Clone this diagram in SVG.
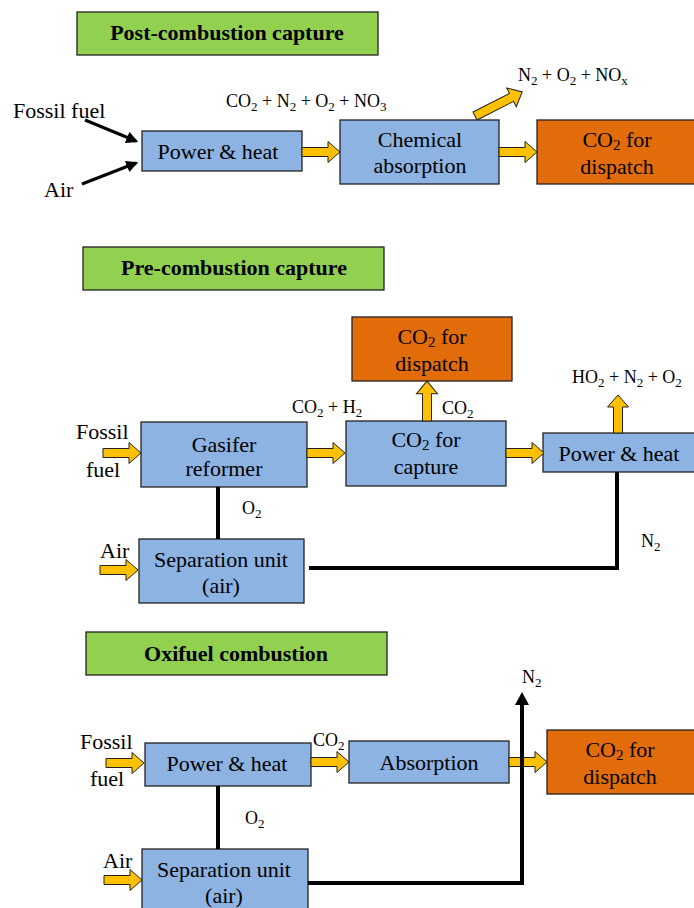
<svg xmlns="http://www.w3.org/2000/svg" xmlns:xlink="http://www.w3.org/1999/xlink" width="694" height="908" viewBox="0 0 694 908">
<style>
text{font-family:"Liberation Serif","Times New Roman",serif;fill:#000}
.t{font-size:22px;font-weight:bold;text-anchor:middle}
.b{font-size:22px;text-anchor:middle}
.l{font-size:22px}
.s{font-size:18px}
.title{fill:#92d050;stroke:#222;stroke-width:1.3}
.blue{fill:#8db3e2;stroke:#222;stroke-width:1.3}
.orange{fill:#e36c0a;stroke:#222;stroke-width:1.3}
.ya{fill:#ffc000;stroke:#222;stroke-width:1}
.bl{fill:none;stroke:#000;stroke-width:4}
.ba{fill:none;stroke:#000;stroke-width:3}
</style>
<defs>
<path id="ya" d="M0,-4.5 H26 V-10.5 L38,0 L26,10.5 V4.5 H0 Z"/>
<path id="yad" d="M0,-4.5 H41 V-10.5 L53,0 L41,10.5 V4.5 H0 Z"/>
<marker id="ah" viewBox="0 0 10 10" refX="8" refY="5" markerWidth="4" markerHeight="4" orient="auto" markerUnits="strokeWidth">
<path d="M0,0 L10,5 L0,10 Z" fill="#000"/>
</marker>
</defs>

<!-- Post-combustion -->
<g id="title1"><rect class="title" x="77" y="12" width="301" height="43"/><text class="t" x="227" y="40">Post-combustion capture</text></g>
<g id="power1"><rect class="blue" x="142" y="131" width="160" height="40"/><text class="b" x="218" y="159">Power &amp; heat</text></g>
<g id="chem1"><rect class="blue" x="340" y="120" width="159" height="64"/><text class="b" x="420" y="147">Chemical</text><text class="b" x="420" y="173">absorption</text></g>
<g id="disp1"><rect class="orange" x="537" y="120" width="160" height="64"/><text class="b" x="617" y="147">CO<tspan font-size="15" dy="3">2</tspan><tspan dy="-3"> for</tspan></text><text class="b" x="617" y="174">dispatch</text></g>

<!-- Pre-combustion -->
<g id="title2"><rect class="title" x="83" y="247" width="301" height="43"/><text class="t" x="234" y="275">Pre-combustion capture</text></g>
<g id="disp2"><rect class="orange" x="352" y="317" width="160" height="64"/><text class="b" x="432" y="344">CO<tspan font-size="15" dy="3">2</tspan><tspan dy="-3"> for</tspan></text><text class="b" x="432" y="371">dispatch</text></g>
<g id="gasifer"><rect class="blue" x="141" y="422" width="166" height="65"/><text class="b" x="224" y="452">Gasifer</text><text class="b" x="224" y="476">reformer</text></g>
<g id="capture"><rect class="blue" x="346" y="421" width="160" height="65"/><text class="b" x="426" y="447">CO<tspan font-size="15" dy="3">2</tspan><tspan dy="-3"> for</tspan></text><text class="b" x="426" y="474">capture</text></g>
<g id="power2"><rect class="blue" x="543" y="433" width="155" height="39"/><text class="b" x="619" y="461">Power &amp; heat</text></g>
<g id="sep2"><rect class="blue" x="139" y="539" width="165" height="64"/><text class="b" x="221" y="567">Separation unit</text><text class="b" x="221" y="593">(air)</text></g>

<!-- Oxifuel -->
<g id="title3"><rect class="title" x="86" y="632" width="301" height="43"/><text class="t" x="236" y="661">Oxifuel combustion</text></g>
<g id="power3"><rect class="blue" x="145" y="743" width="166" height="43"/><text class="b" x="227" y="771">Power &amp; heat</text></g>
<g id="absorp"><rect class="blue" x="349" y="741" width="160" height="42"/><text class="b" x="429" y="770">Absorption</text></g>
<g id="disp3"><rect class="orange" x="547" y="730" width="150" height="64"/><text class="b" x="620" y="757">CO<tspan font-size="15" dy="3">2</tspan><tspan dy="-3"> for</tspan></text><text class="b" x="620" y="784">dispatch</text></g>
<g id="sep3"><rect class="blue" x="142" y="849" width="166" height="64"/><text class="b" x="224" y="877">Separation unit</text><text class="b" x="224" y="903">(air)</text></g>

<g id="connectors">
<!-- top -->
<line class="ba" x1="85" y1="120" x2="136" y2="141" marker-end="url(#ah)"/>
<line class="ba" x1="82" y1="184" x2="136" y2="163" marker-end="url(#ah)"/>
<use href="#ya" class="ya" transform="translate(302,152)"/>
<use href="#ya" class="ya" transform="translate(499,152)"/>
<use href="#yad" class="ya" transform="translate(475,116) rotate(-27)"/>
<!-- middle -->
<use href="#ya" class="ya" transform="translate(103,453)"/>
<use href="#ya" class="ya" transform="translate(307,453)"/>
<use href="#ya" class="ya" transform="translate(506,453)"/>
<use href="#ya" class="ya" transform="translate(427,421) rotate(-90) scale(1.05,1)"/>
<use href="#ya" class="ya" transform="translate(618,433) rotate(-90)"/>
<use href="#ya" class="ya" transform="translate(100,570)"/>
<line class="bl" x1="218" y1="487" x2="218" y2="539"/>
<polyline class="bl" points="617,472 617,568 309,568"/>
<!-- bottom -->
<use href="#ya" class="ya" transform="translate(106,763)"/>
<use href="#ya" class="ya" transform="translate(311,762)"/>
<use href="#ya" class="ya" transform="translate(509,762)"/>
<use href="#ya" class="ya" transform="translate(104,880)"/>
<line class="bl" x1="218" y1="786" x2="218" y2="849"/>
<polyline class="bl" points="308,883 522,883 522,704"/>
<path d="M522,692 L529,705 L515,705 Z" fill="#000"/>
</g>

<g id="labels">
<text class="l" x="13" y="118">Fossil fuel</text>
<text class="l" x="44" y="197">Air</text>
<text class="s" x="226" y="107">CO<tspan font-size="13" dy="4">2</tspan><tspan dy="-4"> + N</tspan><tspan font-size="13" dy="4">2</tspan><tspan dy="-4"> + O</tspan><tspan font-size="13" dy="4">2</tspan><tspan dy="-4"> + NO</tspan><tspan font-size="13" dy="4">3</tspan></text>
<text class="s" x="518" y="81">N<tspan font-size="13" dy="4">2</tspan><tspan dy="-4"> + O</tspan><tspan font-size="13" dy="4">2</tspan><tspan dy="-4"> + NO</tspan><tspan font-size="13" dy="4">x</tspan></text>

<text class="l" x="76" y="439">Fossil</text>
<text class="l" x="86" y="477">fuel</text>
<text class="l" x="100" y="558">Air</text>
<text class="s" x="292" y="413">CO<tspan font-size="13" dy="4">2</tspan><tspan dy="-4"> + H</tspan><tspan font-size="13" dy="4">2</tspan></text>
<text class="s" x="442" y="414">CO<tspan font-size="13" dy="4">2</tspan></text>
<text class="s" x="572" y="383">HO<tspan font-size="13" dy="4">2</tspan><tspan dy="-4"> + N</tspan><tspan font-size="13" dy="4">2</tspan><tspan dy="-4"> + O</tspan><tspan font-size="13" dy="4">2</tspan></text>
<text class="s" x="242" y="514">O<tspan font-size="13" dy="4">2</tspan></text>
<text class="s" x="641" y="547">N<tspan font-size="13" dy="4">2</tspan></text>

<text class="l" x="80" y="749">Fossil</text>
<text class="l" x="90" y="786">fuel</text>
<text class="l" x="103" y="868">Air</text>
<text class="s" x="313" y="746">CO<tspan font-size="13" dy="4">2</tspan></text>
<text class="s" x="245" y="824">O<tspan font-size="13" dy="4">2</tspan></text>
<text class="s" x="522" y="683">N<tspan font-size="13" dy="4">2</tspan></text>
</g>
</svg>
